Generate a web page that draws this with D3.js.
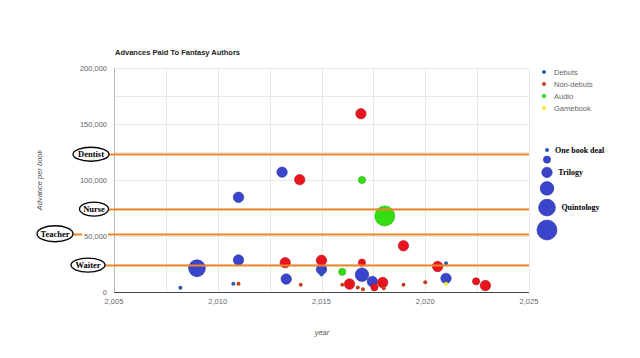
<!DOCTYPE html>
<html>
<head>
<meta charset="utf-8">
<script src="https://cdn.jsdelivr.net/npm/d3@7"></script>
<style>
  body { margin: 0; background: #fff; }
  svg { display: block; font-family: "Liberation Sans", Arial, sans-serif; }
</style>
</head>
<body>
<svg id="chart" width="640" height="358"></svg>
<script>
// series names and colours (small dot = one book deal, bubble = multi-book)
const seriesNames = ['Debuts', 'Non-debuts', 'Audio', 'Gamebook'];
const dotColors = ['#2a5caa', '#c4401c', '#22dd22', '#f2ee22'];
const bubbleColors = ['#3a45cc', '#e8141e', '#33dd11', '#f2ee22'];
const strokeColors = ['#26309a', '#b80f16', '#22b011', '#c8c010'];

// each point: [year, advance per book, books in deal]
const debuts = [
  [2008.2, 3800, 1], [2009.0, 21200, 5], [2011.0, 84600, 3], [2011.0, 28600, 3],
  [2010.75, 7400, 1], [2013.1, 107000, 3], [2013.3, 11600, 3], [2015.0, 20300, 3],
  [2015.0, 15600, 1], [2016.95, 15400, 4], [2017.45, 9400, 3], [2021.0, 25600, 1],
  [2021.0, 12200, 3]
];
const nonDebuts = [
  [2011.0, 7400, 1], [2013.95, 100300, 3], [2013.25, 26200, 3], [2014.0, 6500, 1],
  [2015.0, 28300, 3], [2016.0, 6400, 1], [2016.9, 159200, 3], [2016.95, 26200, 2],
  [2016.35, 7100, 3], [2016.75, 4000, 1], [2017.0, 2500, 1], [2017.55, 4200, 2],
  [2017.95, 8500, 3], [2018.0, 3300, 1], [2018.95, 41300, 3], [2018.95, 6500, 1],
  [2020.0, 8600, 1], [2020.6, 22800, 3], [2022.45, 9500, 2], [2022.9, 5800, 3]
];
const audio = [[2016.0, 18000, 2], [2016.95, 100000, 2], [2018.05, 67900, 6]];
const gamebook = [[2021.0, 7400, 1]];
const seriesData = [debuts, nonDebuts, audio, gamebook];

// salary reference lines
const jobs = ['Dentist', 'Nurse', 'Teacher', 'Waiter'];
const salaries = [123000, 74000, 52000, 24000];

const xTicks = [2005, 2010, 2015, 2020, 2025];
const yTicks = [0, 50000, 100000, 150000, 200000];
const sizeLevels = [1, 2, 3, 4, 5, 6];
const sizeLabels = { 1: 'One book deal', 3: 'Trilogy', 5: 'Quintology' };

const svg = d3.select('#chart');
const plotL = 114, plotR = 529, plotT = 68, plotB = 292;

const x = d3.scaleLinear().domain([2005, 2025]).range([plotL, plotR]);
const y = d3.scaleLinear().domain([0, 200000]).range([plotB, plotT]);
const r = d3.scaleLinear().domain([1, 6]).range([2, 10]);

// grid
const grid = svg.append('g').attr('stroke', '#e8e8e8').attr('stroke-width', 1);
grid.selectAll('line.v')
  .data(d3.range(2005, 2025.1, 2.5))
  .join('line')
  .attr('x1', d => Math.round(x(d)) + 0.5).attr('x2', d => Math.round(x(d)) + 0.5)
  .attr('y1', plotT).attr('y2', plotB);
grid.selectAll('line.h')
  .data(d3.range(25000, 200001, 25000))
  .join('line')
  .attr('x1', plotL).attr('x2', plotR)
  .attr('y1', d => Math.round(y(d)) + 0.5).attr('y2', d => Math.round(y(d)) + 0.5);

svg.append('line')
  .attr('x1', plotL + 0.5).attr('x2', plotL + 0.5).attr('y1', plotT).attr('y2', plotB)
  .attr('stroke', '#bbb');
svg.append('line')
  .attr('x1', plotL).attr('x2', plotR).attr('y1', plotB + 0.5).attr('y2', plotB + 0.5)
  .attr('stroke', '#444');

// bubbles
const points = seriesData.flatMap((pts, s) => pts.map(p => ({ s, year: p[0], value: p[1], n: p[2] })));
points.sort((a, b) => b.n - a.n);
svg.append('g').selectAll('circle')
  .data(points)
  .join('circle')
  .attr('cx', d => x(d.year))
  .attr('cy', d => y(d.value))
  .attr('r', d => r(d.n))
  .attr('fill', d => d.n === 1 ? dotColors[d.s] : bubbleColors[d.s])
  .attr('stroke', d => d.n === 1 ? 'none' : strokeColors[d.s])
  .attr('stroke-width', 0.6);

// salary lines with ellipse labels
const ellipseX = { Dentist: 91, Nurse: 94, Teacher: 55, Waiter: 88 };
const ellipseW = { Dentist: 36, Nurse: 29, Teacher: 36, Waiter: 34 };
const jobG = svg.append('g');
jobs.forEach((job, i) => {
  const cy = Math.round(y(salaries[i])) + 0.5;
  jobG.append('line')
    .attr('x1', ellipseX[job] + ellipseW[job] / 2).attr('x2', plotR)
    .attr('y1', cy).attr('y2', cy)
    .attr('stroke', '#f0862a').attr('stroke-width', 2);
});

// y axis labels (white backing hides the line under "50,000")
const yLab = svg.append('g').attr('font-size', 7.5).attr('fill', '#666');
yTicks.forEach(t => {
  const ty = y(t);
  yLab.append('rect').attr('x', 82).attr('y', ty - 5).attr('width', 26).attr('height', 10).attr('fill', '#fff');
  yLab.append('text').attr('x', 107).attr('y', ty).attr('dy', '0.35em')
    .attr('text-anchor', 'end').text(d3.format(',')(t));
});

jobs.forEach((job, i) => {
  const cy = y(salaries[i]);
  jobG.append('ellipse')
    .attr('cx', ellipseX[job]).attr('cy', cy)
    .attr('rx', ellipseW[job] / 2).attr('ry', job === 'Teacher' ? 8 : 7)
    .attr('fill', '#fff').attr('stroke', '#000').attr('stroke-width', 1.3);
  jobG.append('text')
    .attr('x', ellipseX[job]).attr('y', cy).attr('dy', '0.35em')
    .attr('text-anchor', 'middle')
    .attr('font-family', '"Liberation Serif", "Times New Roman", serif')
    .attr('font-weight', 'bold').attr('font-size', 8.5)
    .text(job);
});

// x axis labels
svg.append('g').selectAll('text')
  .data(xTicks)
  .join('text')
  .attr('x', d => x(d)).attr('y', 304)
  .attr('text-anchor', 'middle').attr('font-size', 7.5).attr('fill', '#666')
  .text(d => d3.format(',')(d));

// titles
svg.append('text').attr('x', 115).attr('y', 55)
  .attr('font-size', 7.5).attr('font-weight', 'bold').attr('fill', '#222')
  .text('Advances Paid To Fantasy Authors');
svg.append('text').attr('x', 322).attr('y', 335)
  .attr('text-anchor', 'middle').attr('font-size', 7.5).attr('font-style', 'italic').attr('fill', '#555')
  .text('year');
svg.append('text')
  .attr('transform', 'translate(42,180) rotate(-90)')
  .attr('text-anchor', 'middle').attr('font-size', 7.5).attr('font-style', 'italic').attr('fill', '#555')
  .text('Advance per book');

// series legend
const leg = svg.append('g').attr('font-size', 7.5).attr('fill', '#666');
seriesNames.forEach((name, i) => {
  const ly = 72 + i * 12;
  leg.append('circle').attr('cx', 544).attr('cy', ly).attr('r', 2).attr('fill', dotColors[i]);
  leg.append('text').attr('x', 554).attr('y', ly).attr('dy', '0.35em').text(name);
});

// size legend
const sizeG = svg.append('g');
let sy = 150;
sizeLevels.forEach((n, i) => {
  if (i > 0) sy += r(sizeLevels[i - 1]) + r(n) + 4;
  sizeG.append('circle')
    .attr('cx', 547).attr('cy', sy).attr('r', r(n))
    .attr('fill', n === 1 ? dotColors[0] : bubbleColors[0])
    .attr('stroke', n === 1 ? 'none' : strokeColors[0]).attr('stroke-width', 0.6);
  if (sizeLabels[n]) {
    sizeG.append('text')
      .attr('x', 547 + r(n) + 6).attr('y', sy).attr('dy', '0.35em')
      .attr('font-family', '"Liberation Serif", "Times New Roman", serif')
      .attr('font-weight', 'bold').attr('font-size', 8)
      .text(sizeLabels[n]);
  }
});
</script>
</body>
</html>
